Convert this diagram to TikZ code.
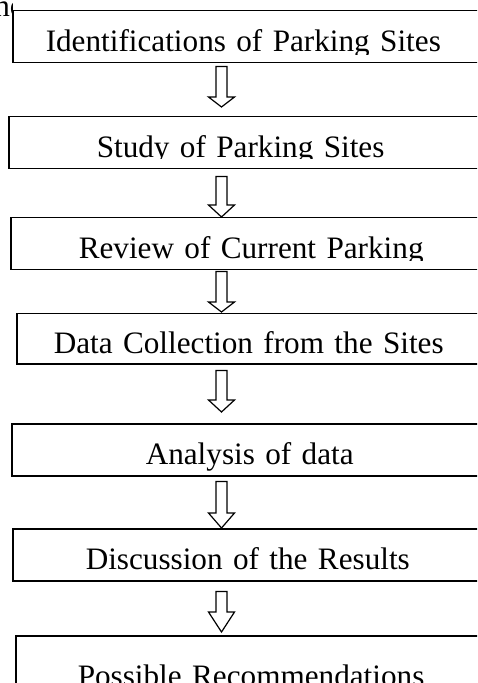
\documentclass[tikz,border=0pt]{standalone}
\usepackage{fontspec}
\setmainfont{Liberation Serif}
\usepackage{trimclip}
\usetikzlibrary{calc}
\tikzset{%
  stepbox/.style={
    draw,
    fill=white,
    line width=0.75pt,
    anchor=north west,
    minimum height=26pt,
    text width=230pt,
    align=left,
    text height=14.5pt,
    text depth=0pt,
    inner xsep=#1
  },
  flow/.style={
    draw,
    fill=white,
    line width=0.6pt,
    line join=miter
  },
}
% label with the bottom of its descenders cut away
\newcommand{\trimlabel}[2]{\clipbox{0pt #1 0pt 0pt}{#2}}
% hollow block arrow straight down: [head] from, to, gap below from, gap above to
\newcommand{\flowarrow}[5][6pt]{%
  \draw[flow] let \p1=(#2.south -| axis), \p2=(#3.north -| axis) in
    (\x1-2.75pt,\y1-#4) -- (\x1+2.75pt,\y1-#4) -- (\x1+2.75pt,\y2+#5+#1)
    -- (\x1+6.5pt,\y2+#5+#1) -- (\x1,\y2+#5) -- (\x1-6.5pt,\y2+#5+#1)
    -- (\x1-2.75pt,\y2+#5+#1) -- cycle;}

\begin{document}
\begin{tikzpicture}[x=0.5pt,y=-0.5pt,font=\fontsize{15.6pt}{18pt}\selectfont]
  \useasboundingbox (0,0) rectangle (477,683);
  \clip (0,0) rectangle (477,683);

  % end of the caption line, cut off at the first box
  \begin{scope}
    \clip (-10,0) rectangle (12,25);
    \node[anchor=base west,inner sep=0pt] (capt) at (-6,17) {no};
  \end{scope}

  \node[stepbox=16.5pt] (s1) at (12,10) {\trimlabel{1.9pt}{Identifications of Parking Sites}};
  \node[stepbox=44pt] (s2) at (8,116) {\trimlabel{2.9pt}{Study of Parking Sites}};
  \node[stepbox=34pt] (s3) at (10,217) {\trimlabel{2.4pt}{Review of Current Parking}};
  \node[stepbox=18.5pt,minimum height=25pt] (s4) at (16,313) {Data Collection from the Sites};
  \node[stepbox=67pt] (s5) at (11,423) {Analysis of data};
  \node[stepbox=36.5pt] (s6) at (12,528) {Discussion of the Results};
  \node[stepbox=31pt,minimum height=36.5pt] (s7) at (15,635) {Possible Recommendations};

  \coordinate (axis) at (221.5,0);
  \flowarrow[5pt]{s1}{s2}{1.5pt}{4.5pt}
  \flowarrow{s2}{s3}{3.5pt}{0pt}
  \flowarrow[5pt]{s3}{s4}{0.5pt}{0.5pt}
  \flowarrow{s4}{s5}{3pt}{5.5pt}
  \flowarrow[7.5pt]{s5}{s6}{2.5pt}{0pt}
  \flowarrow[10pt]{s6}{s7}{5pt}{1.5pt}
\end{tikzpicture}
\end{document}
